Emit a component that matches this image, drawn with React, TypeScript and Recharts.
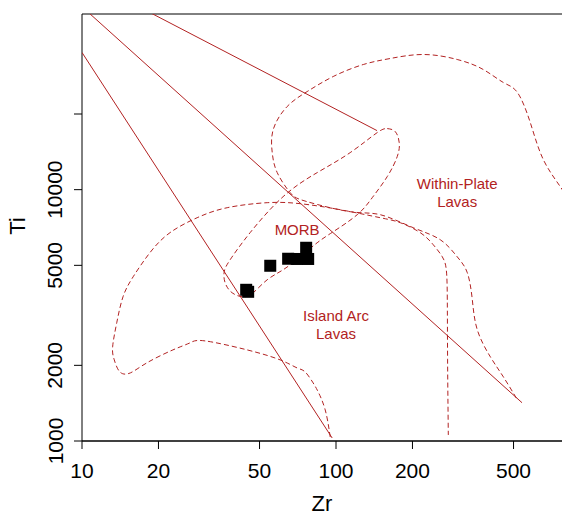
import React from "react";
import {
  ScatterChart,
  Scatter,
  XAxis,
  YAxis,
  ReferenceLine,
} from "recharts";

// tick values
const zrTicks = [10, 20, 50, 100, 200, 500];
const tiTicks = [1000, 2000, 5000, 10000, 20000];
const tiTickLabels: Record<number, string> = {
  1000: "1000",
  2000: "2000",
  5000: "5000",
  10000: "10000",
  20000: "",
};

// samples (Zr, Ti ppm)
const sampleZr = [44.3, 45.1, 55.1, 64.8, 70.3, 77.7, 76.3];
const sampleTi = [3996, 3923, 4980, 5311, 5300, 5300, 5873];

// solid discriminant lines [Zr, Ti]
const lineA = [[10.6, 50700], [540, 1420]];
const lineB = [[18.5, 50700], [145, 17180]];
const lineC = [[10, 35140], [96.6, 1028]];

// dashed field outlines [Zr, Ti]
const islandArc = [
  [94.9, 1037], [90.7, 1329], [85.1, 1567], [81.3, 1702], [75.6, 1883],
  [70.3, 1953], [60.3, 2102], [44.7, 2304], [30.5, 2502], [26.6, 2457],
  [22.8, 2304], [18.0, 2046], [15.5, 1866], [14.1, 1883], [13.4, 2102],
  [13.2, 2368], [13.7, 2952], [14.5, 3747], [15.9, 4502], [18.5, 5610],
  [22.2, 6743], [28.4, 7734], [37.3, 8478], [53.6, 8876], [72.3, 8795],
  [103.9, 8324], [149.4, 7734], [179.1, 7388], [214.7, 6743], [241.5, 6038],
  [262.1, 5408], [271.8, 4800], [274.3, 3646], [275, 2102], [276.8, 1057],
];

const withinPlate = [
  [916, 7594], [778, 10000], [655, 13170], [582, 18490], [518, 24350],
  [456, 26690], [380, 30070], [300, 32960], [220.6, 34500], [163.5, 33260],
  [128.1, 31480], [97.5, 28200], [77.0, 24570], [64.2, 21410], [56.6, 17340],
  [56.1, 14040], [58.7, 11690], [66.0, 9728], [77.0, 8959], [113.7, 8173],
  [149.4, 7951], [201.5, 7057], [257.3, 6322], [300, 5408], [328.9, 4670],
  [344.1, 3646], [360.0, 2769], [405.3, 2161], [456, 1799], [518, 1457],
];

const morb = [
  [159.1, 17500], [171.1, 17020], [177.4, 15390], [174.2, 13540], [159.1, 11270],
  [138.9, 9292], [121.2, 7951], [97.5, 6803], [84.3, 6149], [72.3, 5408],
  [61.9, 4800], [53.6, 4380], [47.2, 3888], [43.1, 3747], [39.0, 3888],
  [36.6, 4262], [36.3, 4713], [38.3, 5261], [45.9, 6743], [61.9, 9378],
  [84.3, 11690], [113.7, 14040], [145.3, 16870], [159.1, 17500],
];

// field names
const fieldNames = [
  { zr: 300, ti: 9730, lines: ["Within-Plate", "Lavas"] },
  { zr: 70.3, ti: 6928, lines: ["MORB"] },
  { zr: 100, ti: 2898, lines: ["Island Arc", "Lavas"] },
];

const RED = "#B22222";
const FONT = "'Liberation Sans', Arial, sans-serif";

const toPts = (arr: number[][]) => arr.map(([zr, ti]) => ({ zr, ti }));
const samples = sampleZr.map((zr, i) => ({ zr, ti: sampleTi[i] }));

const Nothing = () => <g />;

const Square = (p: any) => (
  <rect x={p.cx - 6} y={p.cy - 6} width={12} height={12} fill="#000" />
);

const FieldLabel = (p: any) => {
  const lines: string[] = p.payload.lines;
  return (
    <text
      x={p.cx}
      y={p.cy}
      textAnchor="middle"
      fill={RED}
      fontSize={15}
      fontFamily={FONT}
    >
      {lines.map((t, i) => (
        <tspan key={i} x={p.cx} dy={i === 0 ? (lines.length === 1 ? 5 : -4) : 18}>
          {t}
        </tspan>
      ))}
    </text>
  );
};

const XTick = (p: any) => (
  <text
    x={p.x}
    y={p.y + 19}
    textAnchor="middle"
    dominantBaseline="central"
    fontSize={21}
    fontFamily={FONT}
    fill="#000"
  >
    {p.payload.value}
  </text>
);

const YTick = (p: any) => (
  <text
    x={55}
    y={p.y}
    transform={`rotate(-90 55 ${p.y})`}
    textAnchor="middle"
    dominantBaseline="central"
    fontSize={21}
    fontFamily={FONT}
    fill="#000"
  >
    {tiTickLabels[p.payload.value]}
  </text>
);

export default function App() {
  const solid = { stroke: RED, strokeWidth: 1 };
  const dashed = { stroke: RED, strokeWidth: 1, strokeDasharray: "5 3" };
  return (
    <div
      style={{
        position: "absolute",
        left: 0,
        top: 0,
        width: 562,
        height: 516,
        overflow: "hidden",
        background: "#fff",
      }}
    >
      <ScatterChart
        width={590}
        height={516}
        margin={{ top: 14, right: 0, left: 0, bottom: 0 }}
      >
        <XAxis
          type="number"
          dataKey="zr"
          scale="log"
          domain={[10, 1000]}
          allowDataOverflow
          ticks={zrTicks}
          tick={XTick}
          tickSize={8}
          height={75}
          stroke="#000"
          axisLine={{ stroke: "#000", strokeWidth: 1.5 }}
          tickLine={{ stroke: "#000" }}
        />
        <YAxis
          type="number"
          dataKey="ti"
          scale="log"
          domain={[1000, 50000]}
          allowDataOverflow
          ticks={tiTicks}
          tick={YTick}
          tickSize={8}
          width={82}
          stroke="#000"
          axisLine={{ stroke: "#000" }}
          tickLine={{ stroke: "#000" }}
        />
        <ReferenceLine y={50000} stroke="#000" />

        <Scatter data={toPts(lineA)} line={solid} shape={Nothing} isAnimationActive={false} />
        <Scatter data={toPts(lineB)} line={solid} shape={Nothing} isAnimationActive={false} />
        <Scatter data={toPts(lineC)} line={solid} shape={Nothing} isAnimationActive={false} />

        <Scatter data={toPts(islandArc)} line={dashed} lineJointType="natural" shape={Nothing} isAnimationActive={false} />
        <Scatter data={toPts(withinPlate)} line={dashed} lineJointType="natural" shape={Nothing} isAnimationActive={false} />
        <Scatter data={toPts(morb)} line={dashed} lineJointType="natural" shape={Nothing} isAnimationActive={false} />

        <Scatter data={fieldNames} shape={FieldLabel} isAnimationActive={false} />
        <Scatter data={samples} shape={Square} isAnimationActive={false} />
      </ScatterChart>

      <div
        style={{
          position: "absolute",
          left: 322,
          top: 504,
          transform: "translate(-50%, -50%)",
          fontFamily: FONT,
          fontSize: 22,
          lineHeight: 1,
        }}
      >
        Zr
      </div>
      <div
        style={{
          position: "absolute",
          left: 18,
          top: 226,
          transform: "translate(-50%, -50%) rotate(-90deg)",
          fontFamily: FONT,
          fontSize: 22,
          lineHeight: 1,
        }}
      >
        Ti
      </div>
    </div>
  );
}
